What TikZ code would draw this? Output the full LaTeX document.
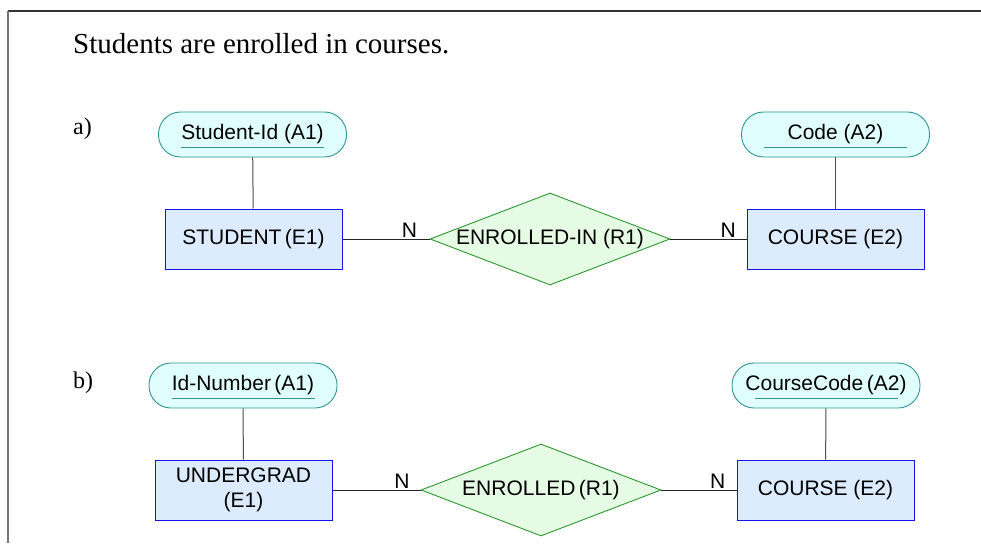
\documentclass[tikz,border=0pt]{standalone}
\usepackage{fontspec}
\setmainfont{Liberation Serif}
\setsansfont{Liberation Sans}
\usepackage{tikz}
\usepackage{xcolor}
\usetikzlibrary{shapes.geometric}
\usetikzlibrary{positioning}

\definecolor{attrfill}{HTML}{E0FEFE}
\definecolor{attrline}{HTML}{2E9494}
\definecolor{entfill}{HTML}{DCEBFD}
\definecolor{entline}{HTML}{1414F0}
\definecolor{relfill}{HTML}{E6FBE4}
\definecolor{relline}{HTML}{2E962E}

\begin{document}
\begin{tikzpicture}[x=1pt, y=-1pt,
    attrbox/.style={draw=attrline, fill=attrfill, line width=0.9pt, rectangle, rounded corners=22pt,
        minimum width=188pt, minimum height=45pt, inner sep=0pt, text height=15pt, text depth=6pt,
        font=\sffamily\fontsize{21}{25}\selectfont},
    entitybox/.style={draw=entline, fill=entfill, line width=1pt, rectangle, minimum width=177pt,
        minimum height=60pt, inner sep=0pt, align=center,
        font=\sffamily\fontsize{21}{25}\selectfont},
    relbox/.style={draw=relline, fill=relfill, line width=0.9pt, diamond, aspect=2.6, minimum width=240pt,
        minimum height=92pt, inner sep=0pt, font=\sffamily\fontsize{21}{25}\selectfont},
    conn/.style={draw=black!85, line width=1pt},
    attrconn/.style={draw=black!70, line width=1pt},
    card/.style={above, inner sep=1.5pt, font=\sffamily\fontsize{21}{25}\selectfont},
    uline/.style={draw=attrline, line width=1pt}]
                \useasboundingbox (0,0) rectangle (981,543);
                % Frame round the page (top and left only)
                \draw[black!80, line width=1.2pt] (981,11) -- (8,11);
                \draw[black!55, line width=1.6pt] (8,11) -- (8,543);

                % Title and part labels
                \node[anchor=base west, inner sep=0pt, font=\fontsize{29}{34}\selectfont] (title) at (73,53) {Students are enrolled in courses.};
                \node[anchor=base west, inner sep=0pt, font=\fontsize{24}{28}\selectfont] (parta) at (73,134) {a)};
                \node[anchor=base west, inner sep=0pt, font=\fontsize{24}{28}\selectfont] (partb) at (73,388) {b)};

                % a) entities, attributes and relationship
                \node[attrbox] (a1) at (252.5,134.5) {Student-Id (A1)};
                \node[attrbox] (a2) at (835.5,134.5) {Code (A2)};
                \node[entitybox] (e1) at (253.5,239) {STUDENT\,(E1)};
                \node[entitybox] (e2) at (835.5,239) {COURSE (E2)};
                \node[relbox] (r1) at (550,239) {ENROLLED-IN (R1)};

                % key attributes are underlined
                \draw[uline] ([xshift=-71.5pt,yshift=-12.5pt]a1.center) -- ++(143,0);
                \draw[uline] ([xshift=-71.5pt,yshift=-12.5pt]a2.center) -- ++(143,0);

                \draw[attrconn] (a1) -- (e1);
                \draw[attrconn] (a2) -- (e2);
                \draw[conn] (e1) -- node[card, pos=0.77] {N} (r1);
                \draw[conn] (r1) -- node[card, pos=0.76] {N} (e2);

                % b) the same diagram with other names
                \node[attrbox] (b1) at (243,385.5) {Id-Number\,(A1)};
                \node[attrbox] (b2) at (826,385.5) {CourseCode\,(A2)};
                \node[entitybox] (f1) at (243.5,490) {UNDERGRAD\\(E1)};
                \node[entitybox] (f2) at (825.5,490) {COURSE (E2)};
                \node[relbox] (r2) at (541,490) {ENROLLED\,(R1)};

                \draw[uline] ([xshift=-71.5pt,yshift=-12.5pt]b1.center) -- ++(143,0);
                \draw[uline] ([xshift=-71.5pt,yshift=-12.5pt]b2.center) -- ++(143,0);

                \draw[attrconn] (b1) -- (f1);
                \draw[attrconn] (b2) -- (f2);
                \draw[conn] (f1) -- node[card, pos=0.79] {N} (r2);
                \draw[conn] (r2) -- node[card, pos=0.75] {N} (f2);
            \end{tikzpicture}
\end{document}
